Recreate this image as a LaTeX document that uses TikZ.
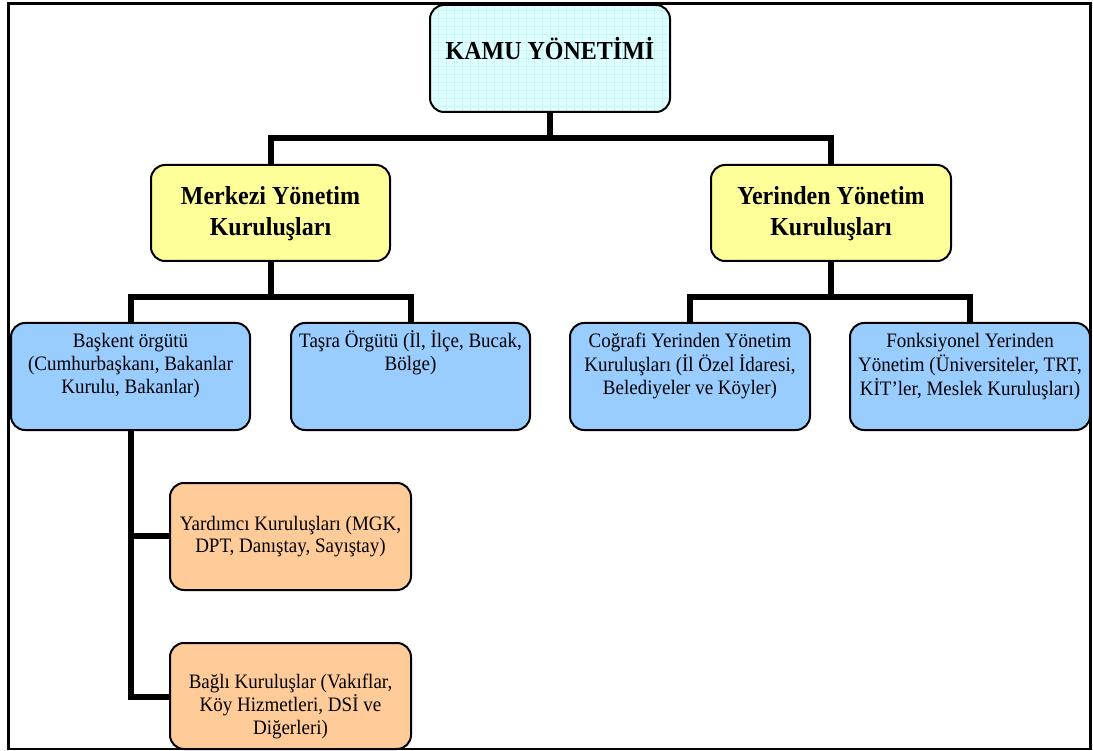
\documentclass[tikz,border=0pt]{standalone}
\usepackage{fontspec}
\usepackage{graphicx}
\setmainfont{Liberation Serif}
\definecolor{kamufill}{HTML}{DDFFFF}
\definecolor{kamugrid}{HTML}{C8F4F4}
\definecolor{mainfill}{HTML}{FFFF99}
\definecolor{unitfill}{HTML}{99CCFF}
\definecolor{subfill}{HTML}{FFCC99}
% stacked, centred lines (slightly tall lettering) whose baseline is that of the first line
\newcommand\stacklines[1]{\scalebox{1}[1.08]{\begin{tabular}[t]{@{}c@{}}#1\end{tabular}}}

\begin{document}
\begin{tikzpicture}[x=1pt,y=-1pt,
  box/.style={draw=black, line width=2pt, rounded corners=14pt,
    inner sep=0pt, outer sep=0pt, anchor=north west},
  title/.style={anchor=base, inner sep=0pt,
    font=\fontsize{24}{28}\selectfont\bfseries},
  body/.style={anchor=base, inner sep=0pt,
    font=\fontsize{19}{21}\selectfont},
  conn/.style={line width=6pt, draw=black, line join=miter},
  frameline/.style={line width=3pt, draw=black}]

\useasboundingbox (0,0) rectangle (1093,751);

% bus levels of the tree
\coordinate (busA) at (0,138);
\coordinate (busB) at (0,297);
\coordinate (busC) at (0,536);
\coordinate (busD) at (0,697);

% boxes
\node[box, fill=kamufill, minimum width=240pt, minimum height=107pt,
  path picture={\draw[kamugrid, line width=0.5pt]
    (path picture bounding box.south west) grid[step=8pt]
    (path picture bounding box.north east);}]
  (kamu) at (430,5) {};
\node[box, fill=mainfill, minimum width=239pt, minimum height=96pt] (merkezi) at (151,165) {};
\node[box, fill=mainfill, minimum width=240pt, minimum height=96pt] (yerinden) at (711,165) {};
\node[box, fill=unitfill, minimum width=239pt, minimum height=107pt] (baskent) at (11,323) {};
\node[box, fill=unitfill, minimum width=239pt, minimum height=107pt] (tasra) at (291,323) {};
\node[box, fill=unitfill, minimum width=240pt, minimum height=107pt] (cografi) at (570,323) {};
\node[box, fill=unitfill, minimum width=240pt, minimum height=107pt] (fonk) at (850,323) {};
\node[box, fill=subfill, minimum width=241pt, minimum height=107pt] (yardimci) at (170,483) {};
\node[box, fill=subfill, minimum width=241pt, minimum height=106pt] (bagli) at (170,643) {};

% connectors
\draw[conn] (kamu.south) -- (kamu.south |- busA);
\draw[conn] (merkezi.north) -- (merkezi.north |- busA) -- (yerinden.north |- busA) -- (yerinden.north);
\draw[conn] (merkezi.south) -- (merkezi.south |- busB);
\draw[conn] (baskent.north) -- (baskent.north |- busB) -- (tasra.north |- busB) -- (tasra.north);
\draw[conn] (yerinden.south) -- (yerinden.south |- busB);
\draw[conn] (cografi.north) -- (cografi.north |- busB) -- (fonk.north |- busB) -- (fonk.north);
\draw[conn] (baskent.south) -- (baskent.south |- busD) -- (bagli.west |- busD);
\draw[conn] (baskent.south |- busC) -- (yardimci.west |- busC);

% texts
\node[title] (kamu-t) at (kamu.north |- 0,60) {\stacklines{KAMU YÖNETİMİ}};
\node[title] (merkezi-t) at (merkezi.north |- 0,205) {\stacklines{Merkezi Yönetim\\Kuruluşları}};
\node[title] (yerinden-t) at (yerinden.north |- 0,205) {\stacklines{Yerinden Yönetim\\Kuruluşları}};
\node[body] (baskent-t) at (baskent.north |- 0,348) {\stacklines{Başkent örgütü\\(Cumhurbaşkanı, Bakanlar\\Kurulu, Bakanlar)}};
\node[body] (tasra-t) at (tasra.north |- 0,348) {\stacklines{Taşra Örgütü (İl, İlçe, Bucak,\\Bölge)}};
\node[body] (cografi-t) at (cografi.north |- 0,348) {\stacklines{Coğrafi Yerinden Yönetim\\Kuruluşları (İl Özel İdaresi,\\Belediyeler ve Köyler)}};
\node[body] (fonk-t) at (fonk.north |- 0,348) {\stacklines{Fonksiyonel Yerinden\\Yönetim (Üniversiteler, TRT,\\KİT’ler, Meslek Kuruluşları)}};
\node[body] (yardimci-t) at (yardimci.north |- 0,530) {\stacklines{Yardımcı Kuruluşları (MGK,\\DPT, Danıştay, Sayıştay)}};
\node[body] (bagli-t) at (bagli.north |- 0,688) {\stacklines{Bağlı Kuruluşlar (Vakıflar,\\Köy Hizmetleri, DSİ ve\\Diğerleri)}};

% page frame
\draw[frameline] (8.5,749) -- (8.5,3.5) -- (1090.5,3.5) -- (1090.5,749);
\draw[line width=2pt] (7,748.5) -- (1092,748.5);
\end{tikzpicture}
\end{document}
